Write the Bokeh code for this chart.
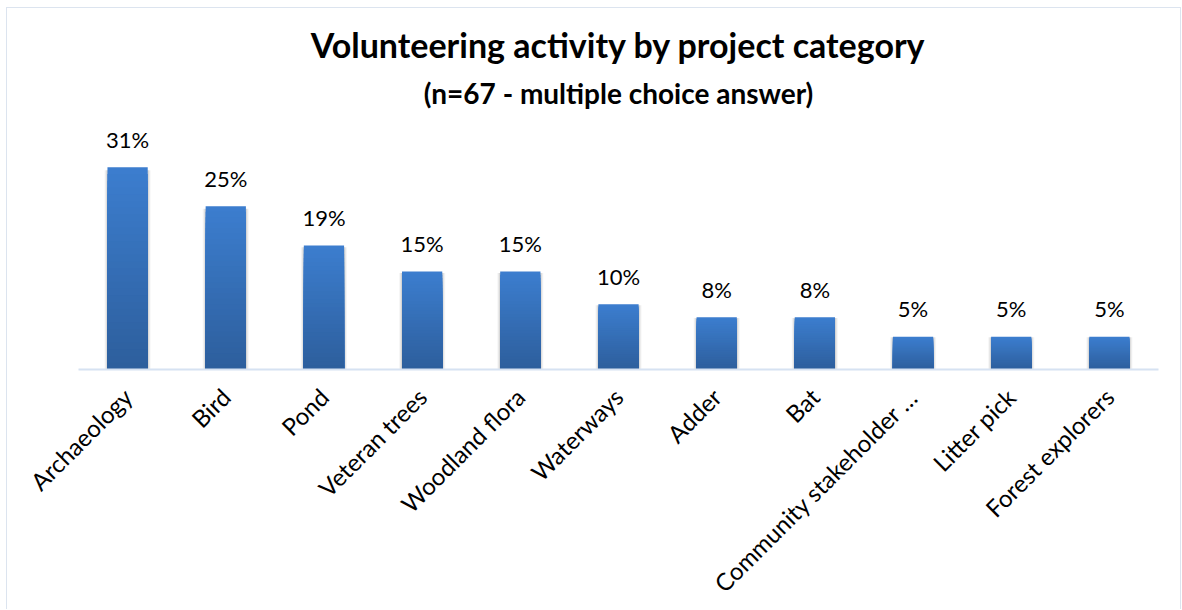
import math
from bokeh.plotting import figure
from bokeh.models import Range1d, FactorRange, Title, ColumnDataSource
from bokeh.embed import file_html
from bokeh.resources import INLINE

categories = ["Archaeology", "Bird", "Pond", "Veteran trees", "Woodland flora",
              "Waterways", "Adder", "Bat", "Community stakeholder …",
              "Litter pick", "Forest explorers"]
values = [31, 25, 19, 15, 15, 10, 8, 8, 5, 5, 5]
value_labels = [f"{v}%" for v in values]

TITLE = "Volunteering activity by project category"
SUBTITLE = "(n=67 - multiple choice answer)"

FONT = "Lato"
TOP_RGB = (0x3C, 0x7E, 0xCF)
BOT_RGB = (0x2D, 0x5E, 0x9C)

W, H = 1175, 602
p = figure(width=W, height=H, output_backend="svg", toolbar_location=None,
           x_range=FactorRange(*categories, range_padding=0),
           y_range=Range1d(0, 38.3),
           min_border_left=71, min_border_right=24, min_border_bottom=236,
           min_border_top=0, title=None)
p.styles = {"border-top": "1px solid #DCE4EF", "border-left": "1px solid #DCE4EF",
            "border-right": "1px solid #DCE4EF", "margin-left": "6px",
            "margin-top": "7px"}

# soft shadow behind bars
shadow_src = ColumnDataSource(dict(x=categories, top=[v * 0.985 for v in values]))
for w, a in ((0.47, 0.04), (0.45, 0.06), (0.43, 0.08)):
    p.vbar(x="x", top="top", bottom=-0.25, width=w, source=shadow_src,
           fill_color="#000000", fill_alpha=a, line_color=None)

# gradient bars (banded)
N = 30
for j in range(N):
    t = (j + 0.5) / N
    col = "#%02x%02x%02x" % tuple(int(round(a + (b - a) * t)) for a, b in zip(TOP_RGB, BOT_RGB))
    frac = 1 - j / N
    src = ColumnDataSource(dict(x=categories, top=[v * frac for v in values]))
    p.vbar(x="x", top="top", width=0.41, source=src, fill_color=col, line_color=None)

lab_src = ColumnDataSource(dict(x=categories, y=values, t=value_labels))
p.text(x="x", y="y", text="t", source=lab_src, text_align="center",
       text_baseline="middle", y_offset=-28, text_font_size="22px",
       text_color="#000000", text_font={"value": FONT})

sub = Title(text=SUBTITLE, align="center", text_font=FONT, text_font_size="28px",
            text_font_style="bold", text_color="#000000", standoff=19)
main = Title(text=TITLE, align="center", text_font=FONT, text_font_size="34px",
             text_font_style="bold", text_color="#000000", standoff=0)
spacer = Title(text=" ", text_font_size="10px", standoff=0)
p.add_layout(sub, "above")
p.add_layout(main, "above")
p.add_layout(spacer, "above")

p.yaxis.visible = False
p.xgrid.visible = False
p.ygrid.visible = False
p.outline_line_color = None
ax = p.xaxis[0]
ax.axis_line_color = "#D6E2F2"
ax.axis_line_width = 2
ax.major_tick_line_color = None
ax.minor_tick_line_color = None
ax.major_label_orientation = math.pi / 4
ax.major_label_text_font = FONT
ax.major_label_text_font_size = "24px"
ax.major_label_text_color = "#000000"
ax.major_label_standoff = 17

open("out.html", "w").write(file_html(p, INLINE))
